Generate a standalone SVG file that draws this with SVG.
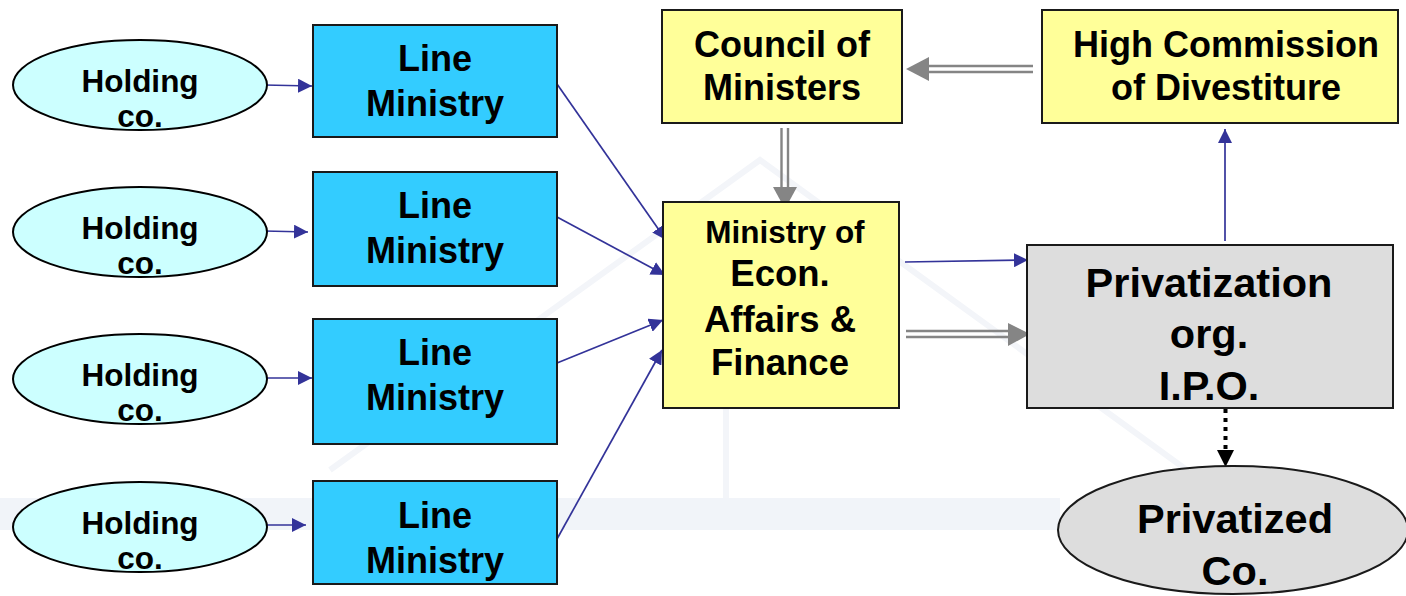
<svg xmlns="http://www.w3.org/2000/svg" width="1406" height="596" viewBox="0 0 1406 596">
  <defs>
    <style>
      text{font-family:"Liberation Sans",Arial,Helvetica,sans-serif;font-weight:bold;fill:#000;text-anchor:middle}
      .holding{fill:#CCFFFF;stroke:#000;stroke-width:2}
      .linemin{fill:#33CCFF;stroke:#1a1a1a;stroke-width:2}
      .yellow{fill:#FFFF99;stroke:#1a1a1a;stroke-width:2}
      .grey{fill:#DDDDDD;stroke:#1a1a1a;stroke-width:2}
      .blue{stroke:#333399;stroke-width:1.7;fill:none;marker-end:url(#ah-blue)}
      .dbl{stroke:#858585;stroke-width:2.4;fill:none}
      .headgrey{fill:#858585}
      .dotted{stroke:#000;stroke-width:4;stroke-dasharray:4 5;fill:none}
      .wm{fill:none;stroke:#f3f5f9;stroke-width:6}
    </style>
    <marker id="ah-blue" markerUnits="userSpaceOnUse" markerWidth="14" markerHeight="14" refX="14" refY="7" orient="auto">
      <path d="M0,0 L14,7 L0,14 z" fill="#333399"/>
    </marker>
  </defs>

  <rect width="1406" height="596" fill="#ffffff"/>

  <!-- faint background house emblem -->
  <g id="watermark">
    <rect x="0" y="498" width="1060" height="32" fill="#f1f4f9"/>
    <polyline class="wm" points="330,470 760,160 1290,545"/>
    <line class="wm" x1="726" y1="400" x2="726" y2="498"/>
  </g>

  <!-- connectors -->
  <g id="connectors">
    <!-- holding companies to line ministries -->
    <line class="blue" x1="264" y1="85" x2="312" y2="86"/>
    <line class="blue" x1="264" y1="231" x2="308" y2="232"/>
    <line class="blue" x1="264" y1="378" x2="312" y2="378"/>
    <line class="blue" x1="264" y1="525" x2="306" y2="525"/>
    <!-- line ministries to ministry of econ. affairs -->
    <line class="blue" x1="557" y1="84" x2="666" y2="240"/>
    <line class="blue" x1="557" y1="217" x2="665" y2="275"/>
    <line class="blue" x1="557" y1="363" x2="663" y2="320"/>
    <line class="blue" x1="557" y1="539" x2="662" y2="350"/>
    <!-- ministry to privatization org. -->
    <line class="blue" x1="905" y1="262" x2="1028" y2="260"/>
    <!-- privatization org. to high commission -->
    <line class="blue" x1="1225" y1="241" x2="1225" y2="129"/>

    <!-- high commission to council of ministers -->
    <g>
      <line class="dbl" x1="1033" y1="66" x2="926" y2="66"/>
      <line class="dbl" x1="1033" y1="72" x2="926" y2="72"/>
      <polygon class="headgrey" points="906,69 929,57 929,81"/>
    </g>
    <!-- council of ministers to ministry -->
    <g>
      <line class="dbl" x1="781.5" y1="128" x2="781.5" y2="190"/>
      <line class="dbl" x1="788" y1="128" x2="788" y2="190"/>
      <polygon class="headgrey" points="785,209 773,187 797,187"/>
    </g>
    <!-- ministry to privatization org. (double) -->
    <g>
      <line class="dbl" x1="906" y1="331" x2="1010" y2="331"/>
      <line class="dbl" x1="906" y1="337" x2="1010" y2="337"/>
      <polygon class="headgrey" points="1030,334 1008,323 1008,346"/>
    </g>
    <!-- privatization org. to privatized co. -->
    <g>
      <line class="dotted" x1="1225.5" y1="409" x2="1225.5" y2="450"/>
      <polygon fill="#000" points="1217,450 1234,450 1225.5,467"/>
    </g>
  </g>

  <!-- holding companies -->
  <g id="holding-1">
    <ellipse class="holding" cx="140" cy="85" rx="127" ry="45"/>
    <text x="140" y="92" font-size="31.5">Holding</text>
    <text x="140" y="127" font-size="31.5">co.</text>
  </g>
  <g id="holding-2">
    <ellipse class="holding" cx="140" cy="232" rx="127" ry="45"/>
    <text x="140" y="239" font-size="31.5">Holding</text>
    <text x="140" y="274" font-size="31.5">co.</text>
  </g>
  <g id="holding-3">
    <ellipse class="holding" cx="140" cy="379" rx="127" ry="45"/>
    <text x="140" y="386" font-size="31.5">Holding</text>
    <text x="140" y="421" font-size="31.5">co.</text>
  </g>
  <g id="holding-4">
    <ellipse class="holding" cx="140" cy="527" rx="127" ry="45"/>
    <text x="140" y="534" font-size="31.5">Holding</text>
    <text x="140" y="569" font-size="31.5">co.</text>
  </g>

  <!-- line ministries -->
  <g id="line-ministry-1">
    <rect class="linemin" x="313" y="25" width="244" height="112"/>
    <text x="435" y="71" font-size="36">Line</text>
    <text x="435" y="116" font-size="36">Ministry</text>
  </g>
  <g id="line-ministry-2">
    <rect class="linemin" x="313" y="172" width="244" height="114"/>
    <text x="435" y="218" font-size="36">Line</text>
    <text x="435" y="263" font-size="36">Ministry</text>
  </g>
  <g id="line-ministry-3">
    <rect class="linemin" x="313" y="319" width="244" height="125"/>
    <text x="435" y="365" font-size="36">Line</text>
    <text x="435" y="410" font-size="36">Ministry</text>
  </g>
  <g id="line-ministry-4">
    <rect class="linemin" x="313" y="481" width="244" height="103"/>
    <text x="435" y="528" font-size="36">Line</text>
    <text x="435" y="573" font-size="36">Ministry</text>
  </g>

  <!-- government bodies -->
  <g id="council-of-ministers">
    <rect class="yellow" x="662" y="10" width="240" height="113"/>
    <text x="782" y="57" font-size="36">Council of</text>
    <text x="782" y="100" font-size="36">Ministers</text>
  </g>
  <g id="high-commission">
    <rect class="yellow" x="1042" y="10" width="356" height="113"/>
    <text x="1226" y="57" font-size="36">High Commission</text>
    <text x="1226" y="100" font-size="36">of Divestiture</text>
  </g>
  <g id="ministry-econ">
    <rect class="yellow" x="663" y="202" width="236" height="206"/>
    <text x="785" y="243" font-size="31.5">Ministry of</text>
    <text x="780" y="286" font-size="36.5">Econ.</text>
    <text x="780" y="332" font-size="36.5">Affairs &amp;</text>
    <text x="780" y="375" font-size="36.5">Finance</text>
  </g>
  <g id="privatization-org">
    <rect class="grey" x="1027" y="245" width="366" height="163"/>
    <text x="1209" y="297" font-size="41.5">Privatization</text>
    <text x="1209" y="348" font-size="41.5">org.</text>
    <text x="1209" y="400" font-size="41.5">I.P.O.</text>
  </g>
  <g id="privatized-co">
    <ellipse class="grey" cx="1233" cy="530" rx="175" ry="64"/>
    <text x="1235" y="533" font-size="41.5">Privatized</text>
    <text x="1235" y="585" font-size="41.5">Co.</text>
  </g>
</svg>
